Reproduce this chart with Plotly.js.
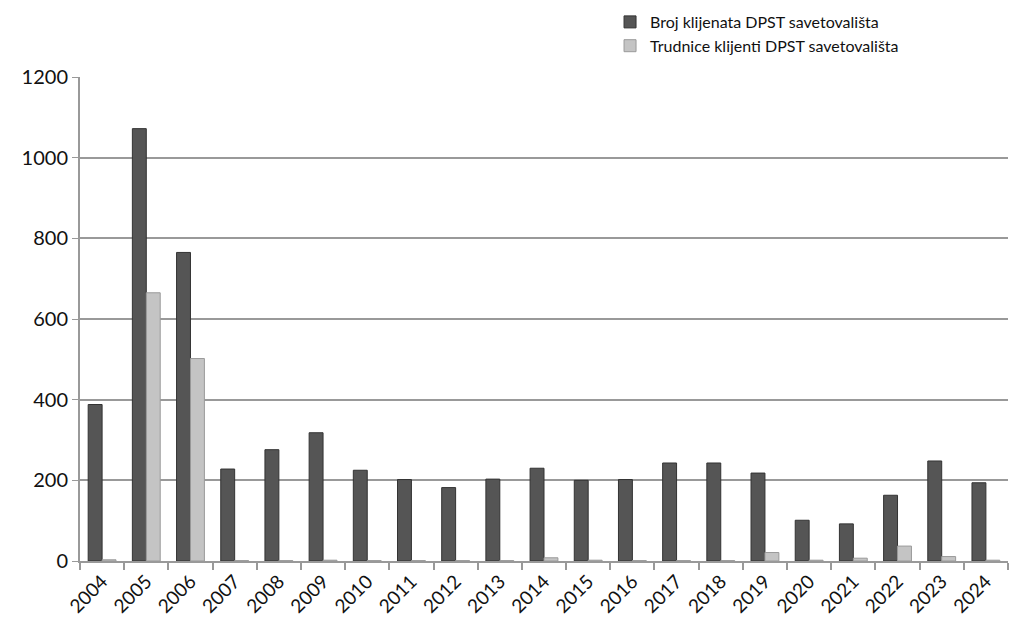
<!DOCTYPE html>
<html><head><meta charset="utf-8">
<script src="https://cdn.plot.ly/plotly-3.0.1.min.js"></script>
<style>body{margin:0;background:#fff}#c{width:1010px;height:624px}</style>
</head><body><div id="c"></div>
<script>
const years = ['2004','2005','2006','2007','2008','2009','2010','2011','2012','2013','2014','2015','2016','2017','2018','2019','2020','2021','2022','2023','2024'];
const clients = [388,1072,765,228,276,318,225,202,182,203,230,200,202,243,243,218,101,92,163,248,194];
const pregnant = [3,665,502,1,1,2,1,1,1,1,8,2,1,1,1,21,2,7,37,11,2];
const seriesNames = ['Broj klijenata DPST savetovališta','Trudnice klijenti DPST savetovališta'];
const yTicks = [0,200,400,600,800,1000,1200];

const font = "Lato, 'Open Sans', sans-serif";
const data = [
  {type:'bar', x:years, y:clients, name:seriesNames[0],
   marker:{color:'#555555', line:{color:'#333333', width:1}}},
  {type:'bar', x:years, y:pregnant, name:seriesNames[1],
   marker:{color:'#c4c4c4', line:{color:'#9a9a9a', width:1}}}
];
const layout = {
  width:1010, height:624,
  margin:{l:80, r:2, t:77, b:63, autoexpand:false},
  paper_bgcolor:'#fff', plot_bgcolor:'#fff',
  barmode:'group', bargap:0.37, bargroupgap:0,
  font:{family:font, color:'#111'},
  showlegend:true,
  legend:{xref:'container', yref:'container', x:0.604, y:0.992, xanchor:'left', yanchor:'top',
          orientation:'v', font:{size:16, family:font}, itemwidth:30, tracegroupgap:9,
          bgcolor:'rgba(0,0,0,0)'},
  xaxis:{type:'category', tickangle:-45, tickfont:{size:19, family:font},
         showline:true, linecolor:'#999', linewidth:2, ticks:'outside', tickcolor:'#999',
         ticklen:7, tickwidth:2, showgrid:false, automargin:false, tickson:'boundaries'},
  yaxis:{range:[0,1200], tickvals:yTicks, ticktext:yTicks.map(String),
         tickfont:{size:20, family:font}, showline:true, linecolor:'#999', linewidth:2,
         gridcolor:'#999', gridwidth:2, ticks:'outside', tickcolor:'#999', ticklen:6,
         zeroline:false, automargin:false}
};
Plotly.newPlot('c', data, layout, {displayModeBar:false, staticPlot:true});
</script></body></html>
